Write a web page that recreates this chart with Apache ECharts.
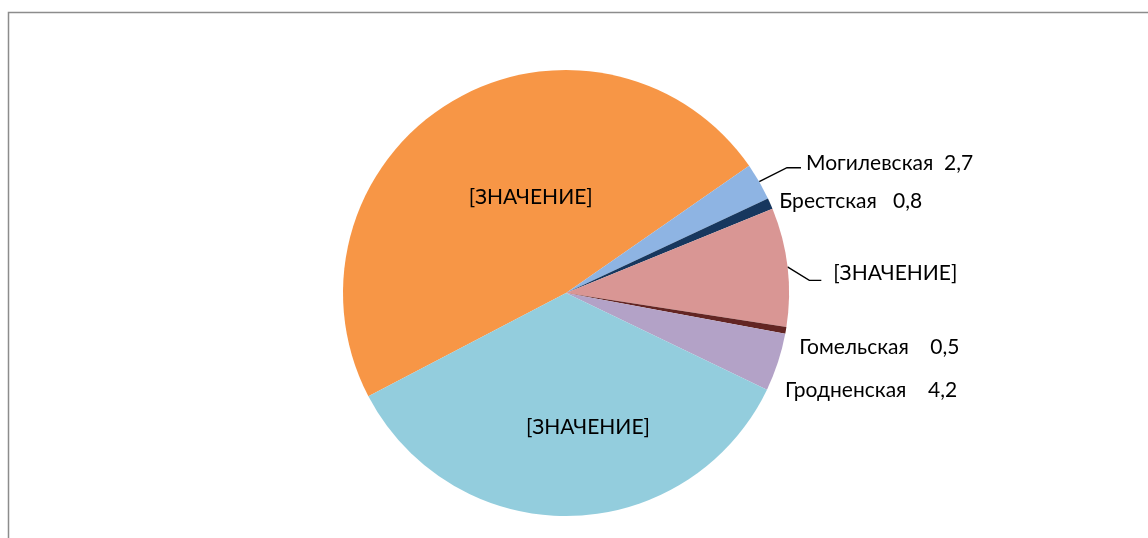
<!DOCTYPE html>
<html><head><meta charset="utf-8">
<script src="https://cdn.jsdelivr.net/npm/echarts@6/dist/echarts.min.js"></script>
<style>html,body{margin:0;padding:0;background:#fff}#c{width:1148px;height:538px}</style>
</head><body><div id="c"></div>
<script>
// Data
const categories = ['г. Минск', 'Могилевская', 'Брестская', 'Витебская', 'Гомельская', 'Гродненская', 'Минская'];
const values = [48.0, 2.7, 0.8, 8.6, 0.5, 4.2, 35.2];
const showsPlaceholder = [true, false, false, true, false, false, true];
const placeholder = '[ЗНАЧЕНИЕ]';

// Styles
const colors = ['#F79646', '#8EB4E3', '#17375E', '#D99694', '#632523', '#B3A2C7', '#93CDDD'];
const gaps = [0, 2, 3, 0, 4, 4, 0];
const lineCfg = [
  {show: false},
  {show: true, length: 32, length2: 14},
  {show: false, length: 0, length2: 0},
  {show: true, length: 22, length2: 12},
  {show: false, length: 0, length2: 0},
  {show: false, length: 0, length2: 0},
  {show: false}
];
const adj = {
  0: {dx: 24, dy: 2},
  1: {dx: 0, dy: -2, ly: 2},
  2: {dx: 4, dy: -2},
  3: {dx: 7, dy: 9, ly: 16},
  4: {dx: 8.5, dy: 17},
  5: {dx: 2, dy: 28},
  6: {dx: 20, dy: 19.5}
};

const fmt = v => String(v).replace('.', ',');
const data = categories.map((n, i) => ({
  name: n,
  value: values[i],
  itemStyle: {color: colors[i]},
  label: {
    position: (i === 0 || i === 6) ? 'inside' : 'outside',
    formatter: showsPlaceholder[i] ? placeholder : n + ' '.repeat(gaps[i]) + fmt(values[i])
  },
  labelLine: lineCfg[i]
}));

const chart = echarts.init(document.getElementById('c'), null, {renderer: 'canvas'});
chart.setOption({
  backgroundColor: '#ffffff',
  animation: false,
  graphic: [{
    type: 'rect', z: -10,
    shape: {x: 8.5, y: 12.5, width: 1300, height: 700},
    style: {fill: 'none', stroke: '#8c8c8c', lineWidth: 1.5}
  }],
  series: [{
    type: 'pie',
    center: [566, 293],
    radius: 223,
    startAngle: 207.6,
    clockwise: true,
    avoidLabelOverlap: false,
    itemStyle: {borderWidth: 0},
    label: {
      fontFamily: 'Lato',
      fontSize: 21,
      color: '#000',
      distanceToLabelLine: 5
    },
    labelLine: {lineStyle: {color: '#000', width: 1.4}},
    labelLayout: function (p) {
      const o = adj[p.dataIndex];
      if (!o) return {};
      const r = {dx: o.dx, dy: o.dy};
      const pts = p.labelLinePoints;
      if (pts && o.ly != null) {
        r.labelLinePoints = [pts[0], [pts[1][0], pts[1][1] + o.ly], [pts[2][0], pts[2][1] + o.ly]];
      }
      return r;
    },
    emphasis: {disabled: true},
    data: data
  }]
});
</script></body></html>
